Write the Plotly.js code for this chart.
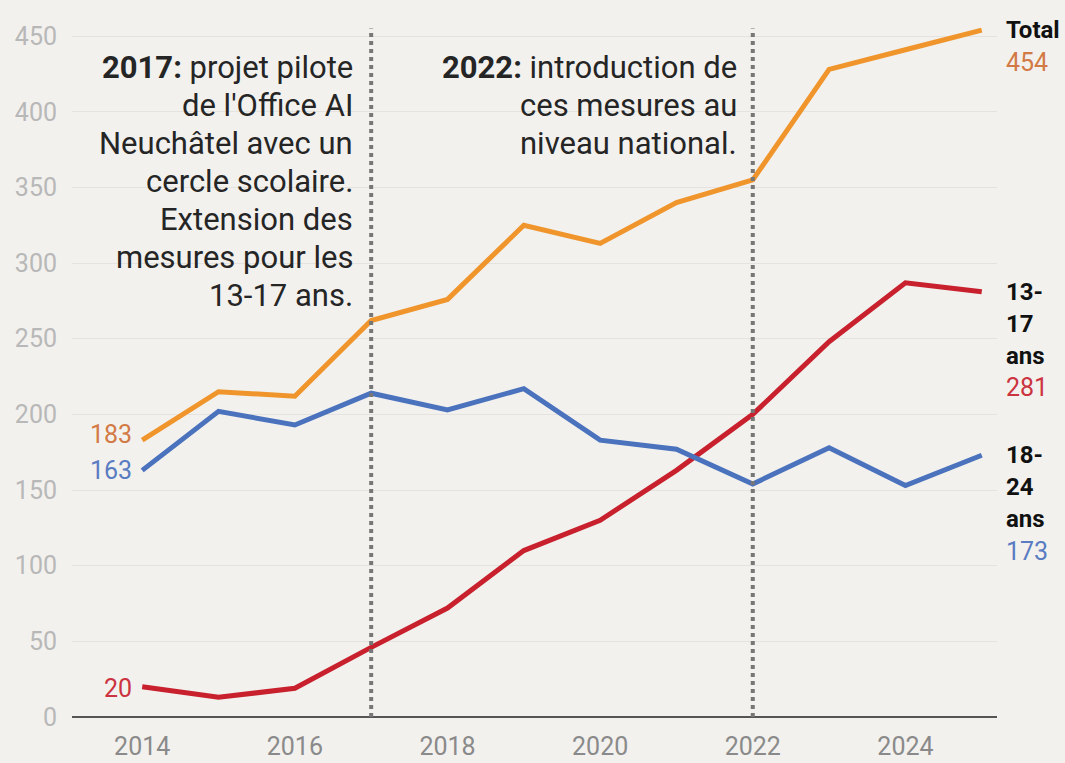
<!DOCTYPE html>
<html><head><meta charset="utf-8">
<script src="https://cdn.plot.ly/plotly-3.0.1.min.js"></script>
<style>html,body{margin:0;padding:0;background:#f2f1ee;}</style>
</head><body>
<div id="chart" style="width:1065px;height:763px;"></div>
<script>
const years = [2014,2015,2016,2017,2018,2019,2020,2021,2022,2023,2024,2025];
const total = [183,215,212,262,276,325,313,340,355,428,441,454];
const teen  = [20,13,19,46,72,110,130,163,200,248,287,281];
const young = [163,202,193,214,203,217,183,177,154,178,153,173];
const xTicks = [2014,2016,2018,2020,2022,2024];
const yTicks = [0,50,100,150,200,250,300,350,400,450];
const eventYears = [2017,2022];
const note2017 = ["<b>2017:</b> projet pilote","de l'Office AI","Neuchâtel avec un","cercle scolaire.","Extension des","mesures pour les","13-17 ans."];
const note2022 = ["<b>2022:</b> introduction de","ces mesures au","niveau national."];
const seriesNames = ["Total","13-17 ans","18-24 ans"];
const endLabels = [["Total"],["13-","17","ans"],["18-","24","ans"]];

const colors = ["#f0952c","#c8202c","#4a72bd"];
const labelColors = ["#d27a45","#cc3340","#5a7cc2"];
const data = [total, teen, young];
const FONT = "Roboto, 'Open Sans', sans-serif";

const traces = data.map((vals,i)=>({
  x: years, y: vals, type:'scatter', mode:'lines', name: seriesNames[i],
  line:{color:colors[i], width:5}, hoverinfo:'x+y'
}));

const ann = [];
const startShift = [6,-2,0];
data.forEach((vals,i)=>{
  ann.push({x:years[0], y:vals[0], xref:'x', yref:'y', text:String(vals[0]), showarrow:false,
    xanchor:'right', yanchor:'middle', xshift:-8, yshift:startShift[i],
    font:{family:FONT, size:25, color:labelColors[i]}});
});
data.forEach((vals,i)=>{
  const n = vals.length-1;
  const lines = endLabels[i];
  lines.forEach((t,j)=>{
    ann.push({x:years[n], y:vals[n], xref:'x', yref:'y', text:'<b>'+t+'</b>', showarrow:false,
      xanchor:'left', yanchor:'middle', xshift:22, yshift:-j*32,
      font:{family:FONT, size:24, color:'#111'}});
  });
  ann.push({x:years[n], y:vals[n], xref:'x', yref:'y', text:String(vals[n]), showarrow:false,
    xanchor:'left', yanchor:'middle', xshift:22, yshift:-lines.length*32,
    font:{family:FONT, size:25, color:labelColors[i]}});
});
function addNote(lines, xYear, xshift){
  lines.forEach((t,j)=>{
    ann.push({x:xYear, y:429, xref:'x', yref:'y', text:t, showarrow:false,
      xanchor:'right', yanchor:'middle', xshift:xshift, yshift:-j*38,
      font:{family:FONT, size:31, color:'#252525'}});
  });
}
addNote(note2017, eventYears[0], -16);
addNote(note2022, eventYears[1], -14);

const shapes = eventYears.map(yr=>({
  type:'line', xref:'x', yref:'y', x0:yr, x1:yr, y0:0, y1:455,
  line:{color:'#777', width:4, dash:'dot'}, layer:'above'
}));

const layout = {
  width:1065, height:763,
  margin:{l:72, r:68, t:21, b:46},
  paper_bgcolor:'#f2f1ee', plot_bgcolor:'#f2f1ee',
  showlegend:false,
  font:{family:FONT},
  xaxis:{range:[2013.08,2025.2], tickvals:xTicks, ticks:'', showgrid:false, zeroline:false,
    showline:false, tickfont:{family:FONT, size:25, color:'#8a8a8a'}, ticklabelstandoff:12, fixedrange:true},
  yaxis:{range:[0,460], tickvals:yTicks, ticks:'', showgrid:true, gridcolor:'#e4e3e0', gridwidth:1,
    zeroline:true, zerolinecolor:'#555', zerolinewidth:2, showline:false,
    tickfont:{family:FONT, size:25, color:'#b8b8b8'}, ticklabelstandoff:14, fixedrange:true},
  annotations:ann, shapes:shapes
};
Plotly.newPlot('chart', traces, layout, {displayModeBar:false, staticPlot:true});
</script>
</body></html>
